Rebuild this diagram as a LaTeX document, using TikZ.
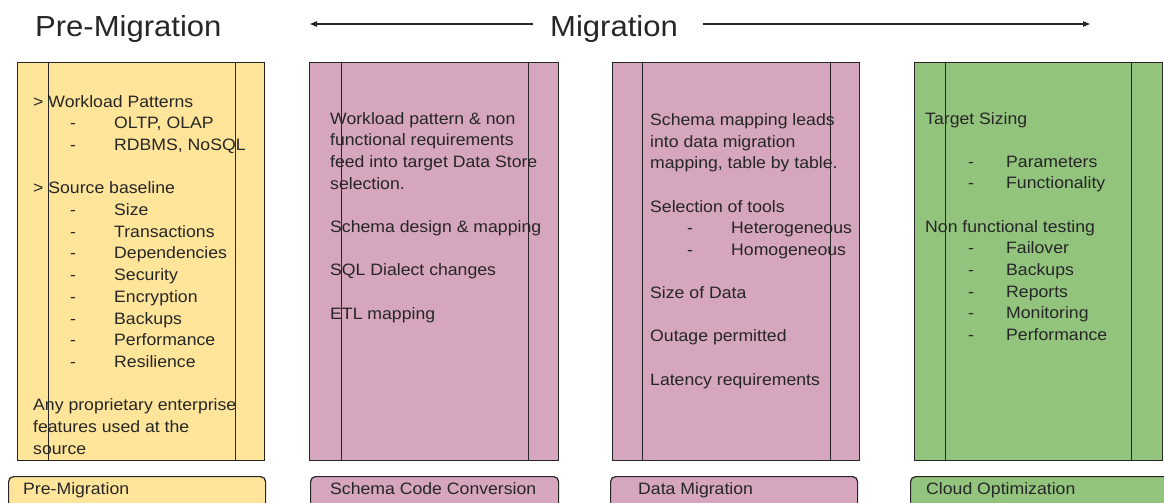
\documentclass[tikz,border=0pt]{standalone}
\usepackage{fontspec}
\setmainfont[FakeStretch=1.07]{Liberation Sans}
\usetikzlibrary{arrows.meta}
\definecolor{yel}{HTML}{FFE599}
\definecolor{pnk}{HTML}{D5A6BD}
\definecolor{grn}{HTML}{93C47D}
\definecolor{ink}{HTML}{262626}
\newcommand\bodyfnt{\fontsize{16.5}{21.7}\selectfont}
\newcommand\titlefnt{\fontsize{29}{34}\selectfont}
\newcommand\itm[1]{\makebox[81pt][l]{\hspace*{37pt}-}#1}
\newcommand\itmb[1]{\makebox[81pt][l]{\hspace*{43pt}-}#1}
\newcommand\blk[1]{\parbox[t]{240pt}{\raggedright\parindent=0pt #1}}
\tikzset{
  panel/.style={draw=ink, line width=1.2pt, anchor=north west, minimum width=247pt, minimum height=398pt, inner sep=0pt},
  divider/.style={draw=ink, line width=0.9pt},
  tag/.style={draw=ink, line width=1.2pt, rounded corners=5pt, anchor=north west, minimum height=50pt, inner sep=0pt},
  body/.style={font=\bodyfnt, anchor=base west, inner sep=0pt, text=ink},
  tagtext/.style={font=\bodyfnt, anchor=base west, inner sep=0pt, text=ink},
  title/.style={font=\titlefnt, anchor=base west, inner sep=0pt, text=ink},
  arr/.style={draw=ink, line width=1.1pt, -{Triangle[length=7pt,width=5.5pt]}}
}
\begin{document}
\begin{tikzpicture}[x=1pt,y=-1pt]
\useasboundingbox (0,0) rectangle (1164,503);
\clip (0,0) rectangle (1164,503);
\fill[white] (0,0) rectangle (1164,503);

% titles and arrows
\node[title] (pre) at (35,36.5) {Pre-Migration};
\node[title] (mig) at (550,36.5) {Migration};
\coordinate (la) at (310,24);
\coordinate (ra) at (1090,24);
\draw[arr] ([xshift=-17pt]mig.west |- la) -- (la);
\draw[arr] ([xshift=25pt]mig.east |- ra) -- (ra);

% panels
\node[panel, fill=yel] (p1) at (17,62) {};
\node[panel, fill=pnk, minimum width=249pt] (p2) at (309,62) {};
\node[panel, fill=pnk] (p3) at (612,62) {};
\node[panel, fill=grn, minimum width=248pt] (p4) at (914,62) {};

\draw[divider] ([xshift=31pt]p1.north west) -- ([xshift=31pt]p1.south west);
\draw[divider] ([xshift=-30pt]p1.north east) -- ([xshift=-30pt]p1.south east);
\draw[divider] ([xshift=32pt]p2.north west) -- ([xshift=32pt]p2.south west);
\draw[divider] ([xshift=-31pt]p2.north east) -- ([xshift=-31pt]p2.south east);
\draw[divider] ([xshift=30pt]p3.north west) -- ([xshift=30pt]p3.south west);
\draw[divider] ([xshift=-30pt]p3.north east) -- ([xshift=-30pt]p3.south east);
\draw[divider] ([xshift=31pt]p4.north west) -- ([xshift=31pt]p4.south west);
\draw[divider] ([xshift=-32pt]p4.north east) -- ([xshift=-32pt]p4.south east);

% panel texts
\node[body] (b1) at (33,107) {\blk{%
> Workload Patterns\\
\itm{OLTP, OLAP}\\
\itm{RDBMS, NoSQL}\\[21.7pt]
> Source baseline\\
\itm{Size}\\
\itm{Transactions}\\
\itm{Dependencies}\\
\itm{Security}\\
\itm{Encryption}\\
\itm{Backups}\\
\itm{Performance}\\
\itm{Resilience}\\[21.7pt]
Any proprietary enterprise\\
features used at the\\
source}};

\node[body] (b2) at (330,124) {\blk{%
Workload pattern \& non\\
functional requirements\\
feed into target Data Store\\
selection.\\[21.7pt]
Schema design \& mapping\\[21.7pt]
SQL Dialect changes\\[21.7pt]
ETL mapping}};

\node[body] (b3) at (650,125.5) {\blk{%
Schema mapping leads\\
into data migration\\
mapping, table by table.\\[21.5pt]
Selection of tools\\
\itm{Heterogeneous}\\
\itm{Homogeneous}\\[21.5pt]
Size of Data\\[21.5pt]
Outage permitted\\[21.5pt]
Latency requirements}};

\node[body] (b4) at (925,124) {\blk{%
Target Sizing\\[21.5pt]
\itmb{Parameters}\\
\itmb{Functionality}\\[21.5pt]
Non functional testing\\
\itmb{Failover}\\
\itmb{Backups}\\
\itmb{Reports}\\
\itmb{Monitoring}\\
\itmb{Performance}}};

% bottom tags
\node[tag, fill=yel, minimum width=257pt] (t1) at (8,476) {};
\node[tag, fill=pnk, minimum width=248pt] (t2) at (310,476) {};
\node[tag, fill=pnk, minimum width=247pt] (t3) at (610,476) {};
\node[tag, fill=grn, minimum width=270pt] (t4) at (910,476) {};
\node[tagtext] (l1) at (23,494.5) {Pre-Migration};
\node[tagtext] (l2) at (330,494.5) {Schema Code Conversion};
\node[tagtext] (l3) at (638,494.5) {Data Migration};
\node[tagtext] (l4) at (926,494.5) {Cloud Optimization};
\end{tikzpicture}
\end{document}
